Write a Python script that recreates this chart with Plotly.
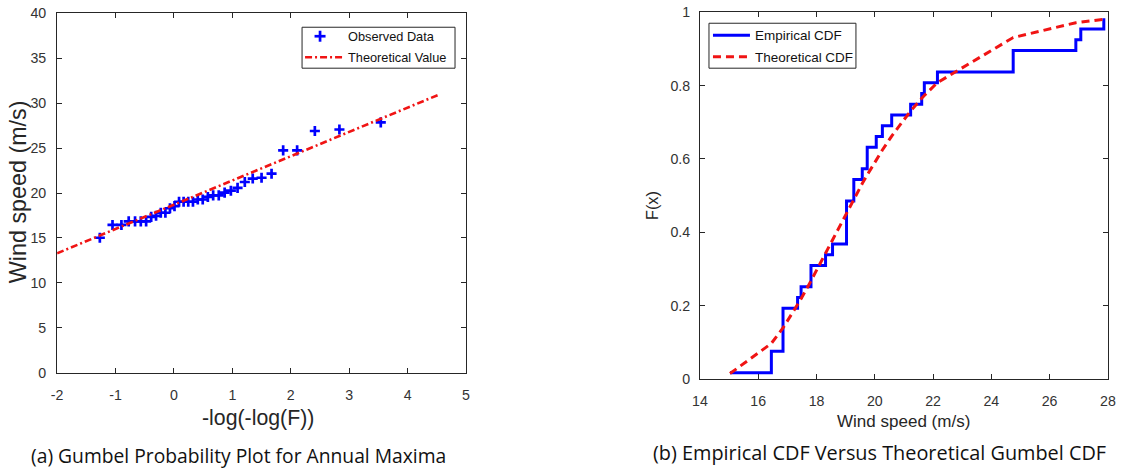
import numpy as np
import plotly.graph_objects as go

# Annual maximum wind speeds (m/s), sorted ascending
wind_speed = [15.03, 16.45, 16.45, 16.85, 16.85, 16.85, 16.85, 17.35, 17.47,
              17.81, 17.81, 18.31, 18.55, 19.03, 19.03, 19.03, 19.03, 19.28,
              19.28, 19.57, 19.74, 19.74, 20.05, 20.26, 20.58, 21.23, 21.61,
              21.70, 22.15, 24.75, 24.75, 26.90, 27.07, 27.86]

# Fitted Gumbel parameters: regression line (a) and CDF fit (b)
line_mu, line_beta = 18.7, 2.7
line_x_range = [-2.0, 4.556]
cdf_mu, cdf_beta = 18.47, 2.38

x_ticks_a = [-2, -1, 0, 1, 2, 3, 4, 5]
x_labels_a = ["-2", "-1", "0", "1", "2", "3", "4", "5"]
y_ticks_a = [0, 5, 10, 15, 20, 25, 30, 35, 40]
x_ticks_b = [14, 16, 18, 20, 22, 24, 26, 28]
y_ticks_b = [0, 0.2, 0.4, 0.6, 0.8, 1]
y_labels_b = ["0", "0.2", "0.4", "0.6", "0.8", "1"]

legend_a = ["Observed Data", "Theoretical Value"]
legend_b = ["Empirical CDF", "Theoretical CDF"]

W, H = 1123, 471
# the page around the figure carries an 8px body margin
BODY = 8
SX, SY = W / (W + 2 * BODY), H / (H + 2 * BODY)

BLUE = "#0000FF"
RED = "#F01414"
AX = "#262626"
FONT = "Liberation Sans, Arial, sans-serif"
CAP_FONT = "Open Sans, Noto Sans, sans-serif"


def px(x):
    """layout x position (page pixels) -> paper fraction"""
    return (x / SX - BODY) / W


def py(y):
    """layout y position (page pixels from top) -> paper fraction"""
    return 1 - (y / SY - BODY) / H


def fs(size):
    return size / SX


ws = np.array(wind_speed)
n = len(ws)
rank = np.arange(1, n + 1)

# (a) Weibull plotting positions -> Gumbel reduced variate
F_weibull = rank / (n + 1)
reduced = -np.log(-np.log(F_weibull))
line_x = np.array(line_x_range)
line_y = line_mu + line_beta * line_x

# (b) Gringorten plotting positions for the empirical CDF
F_emp = (rank - 0.44) / (n + 0.12)
F_theo = np.exp(-np.exp(-(ws - cdf_mu) / cdf_beta))

a_marker = dict(symbol="cross-thin", size=7.2, color=BLUE,
                line=dict(width=2.7, color=BLUE))
a_line = dict(color=RED, width=2.6, dash="7px,3px,2px,3px")
b_step = dict(color=BLUE, width=3)
b_curve = dict(color=RED, width=3, dash="8px,5px")

fig = go.Figure()
fig.add_trace(go.Scatter(x=reduced, y=ws, mode="markers", name=legend_a[0],
                         marker=a_marker, xaxis="x", yaxis="y"))
fig.add_trace(go.Scatter(x=line_x, y=line_y, mode="lines", name=legend_a[1],
                         line=a_line, xaxis="x", yaxis="y"))
fig.add_trace(go.Scatter(x=ws, y=F_emp, mode="lines", name=legend_b[0],
                         line_shape="hv", line=b_step,
                         xaxis="x2", yaxis="y2"))
fig.add_trace(go.Scatter(x=ws, y=F_theo, mode="lines", name=legend_b[1],
                         line=b_curve, xaxis="x2", yaxis="y2"))

tick_font = dict(family=FONT, color="#333333", size=fs(14))
axis_common = dict(showline=True, linecolor=AX, linewidth=1, mirror="ticks",
                   ticks="inside", ticklen=5, tickcolor=AX, tickwidth=1,
                   showgrid=False, zeroline=False, tickfont=tick_font,
                   ticklabeloverflow="allow")

fig.update_layout(
    width=W, height=H,
    margin=dict(l=0, r=0, t=0, b=0),
    paper_bgcolor="white", plot_bgcolor="white",
    showlegend=False,
    xaxis=dict(axis_common, domain=[px(57), px(466)], range=[-2, 5],
               tickvals=x_ticks_a, ticktext=x_labels_a,
               ticklabelstandoff=9, anchor="y"),
    yaxis=dict(axis_common, domain=[py(373), py(13)], range=[0, 40],
               tickvals=y_ticks_a, ticklabelstandoff=7, anchor="x"),
    xaxis2=dict(axis_common, domain=[px(700), px(1108)], range=[14, 28],
                tickvals=x_ticks_b, ticklabelstandoff=9, anchor="y2"),
    yaxis2=dict(axis_common, domain=[py(379), py(12)], range=[0, 1],
                tickvals=y_ticks_b, ticktext=y_labels_b, ticklabelstandoff=6,
                anchor="x2"),
)

# Boxed legends drawn in paper space
shapes = []
annotations = []


def seg(x0, y0, x1, y1, line):
    shapes.append(dict(type="line", xref="paper", yref="paper",
                       x0=px(x0), y0=py(y0), x1=px(x1), y1=py(y1),
                       line=line, layer="above"))


def legend_box(x0, y0, x1, y1):
    shapes.append(dict(type="rect", xref="paper", yref="paper",
                       x0=px(x0), y0=py(y1), x1=px(x1), y1=py(y0),
                       fillcolor="white", line=dict(color=AX, width=1),
                       layer="above"))


def legend_text(text, x, y, size):
    annotations.append(dict(text=text, x=px(x), y=py(y), xanchor="left",
                            yanchor="middle", xref="paper", yref="paper",
                            showarrow=False,
                            font=dict(family=FONT, size=fs(size),
                                      color="#111111")))


legend_box(302, 27, 455, 68)
seg(314.5, 36, 325.5, 36, dict(color=BLUE, width=2.7))
seg(320, 30.5, 320, 41.5, dict(color=BLUE, width=2.7))
seg(305, 57, 343, 57, a_line)
legend_text(legend_a[0], 346, 36, 12.6)
legend_text(legend_a[1], 346, 57, 12.6)

legend_box(709, 23, 856, 68)
seg(713, 35, 750, 35, b_step)
seg(713, 56.5, 750, 56.5, b_curve)
legend_text(legend_b[0], 753, 35, 13.3)
legend_text(legend_b[1], 753, 57, 13.3)

title_font = dict(family=FONT, color=AX)
texts = [
    dict(text="-log(-log(F))", x=px(258), y=py(418),
         font=dict(title_font, size=fs(21))),
    dict(text="Wind speed (m/s)", x=px(18), y=py(192), textangle=-90,
         font=dict(title_font, size=fs(23))),
    dict(text="Wind speed (m/s)", x=px(904), y=py(422),
         font=dict(title_font, size=fs(16.8))),
    dict(text="F(x)", x=px(652), y=py(205), textangle=-90,
         font=dict(title_font, size=fs(16))),
    dict(text="(a) Gumbel Probability Plot for Annual Maxima", x=px(238),
         y=py(456), font=dict(family=CAP_FONT, size=fs(19),
                              color="#111111")),
    dict(text="(b) Empirical CDF Versus Theoretical Gumbel CDF", x=px(651),
         y=py(453), xanchor="left",
         font=dict(family=CAP_FONT, size=fs(19.6), color="#111111")),
]
for a in texts:
    a.setdefault("xanchor", "center")
    a.update(xref="paper", yref="paper", yanchor="middle", showarrow=False)
annotations.extend(texts)

fig.update_layout(shapes=shapes, annotations=annotations)

fig.write_html("out.html")
